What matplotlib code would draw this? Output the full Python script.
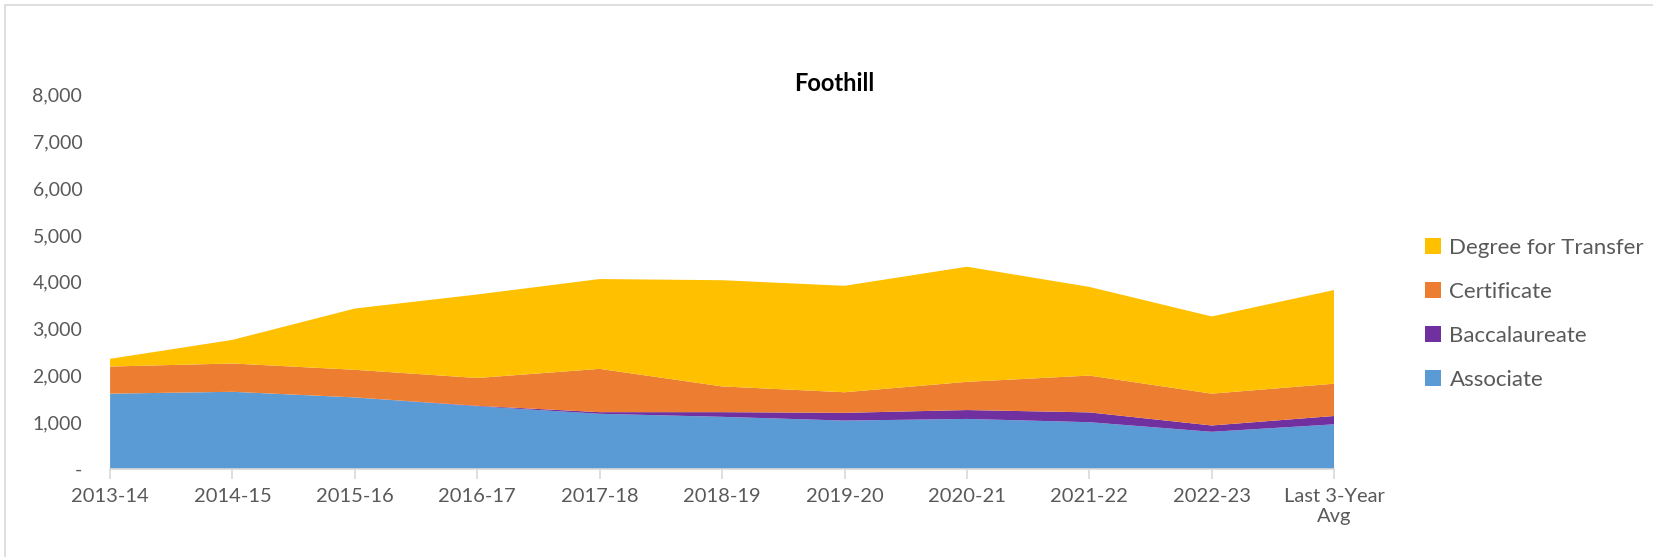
import matplotlib
matplotlib.use("Agg")
import matplotlib.pyplot as plt
from matplotlib.patches import Rectangle
from matplotlib.ticker import FuncFormatter

years = ["2013-14", "2014-15", "2015-16", "2016-17", "2017-18", "2018-19",
         "2019-20", "2020-21", "2021-22", "2022-23", "Last 3-Year\nAvg"]

associate = [1610, 1650, 1530, 1340, 1180, 1115, 1035, 1070, 1000, 795, 955]
baccalaureate = [0, 0, 0, 10, 35, 100, 165, 190, 210, 135, 178]
certificate = [580, 605, 590, 595, 925, 550, 440, 603, 787, 680, 690]
degree_transfer = [165, 505, 1310, 1785, 1920, 2270, 2275, 2460, 1895, 1650, 2002]

labels = ["Associate", "Baccalaureate", "Certificate", "Degree for Transfer"]
colors = ["#5B9BD5", "#7030A0", "#ED7D31", "#FFC000"]

plt.rcParams['font.family'] = ['Lato', 'DejaVu Sans']

fig = plt.figure(figsize=(16.53, 5.57), dpi=100)
ax = fig.add_axes([0.0666, 0.158, 0.7405, 0.672])

x = list(range(len(years)))
ax.stackplot(x, associate, baccalaureate, certificate, degree_transfer,
             colors=colors, labels=labels, linewidth=0)

ax.set_xlim(0, len(years) - 1)
ax.set_ylim(0, 8000)
ax.set_yticks(range(0, 8001, 1000))
ax.yaxis.set_major_formatter(FuncFormatter(lambda v, p: "-" if v == 0 else f"{int(v):,}"))
ax.set_xticks(x)
ax.set_xticklabels(years)

for s in ["top", "right", "left"]:
    ax.spines[s].set_visible(False)
ax.spines["bottom"].set_color("#D9D9D9")
ax.spines["bottom"].set_linewidth(1.2)

ax.tick_params(axis="y", length=0, pad=20, labelsize=14, labelcolor="#595959")
ax.tick_params(axis="x", length=7, width=1.2, color="#D9D9D9", pad=7,
               labelsize=14.5, labelcolor="#595959")

ax.set_title("Foothill", fontsize=17, fontweight="bold", pad=3, x=0.592)

# legend in reversed order like Excel
handles, labs = ax.get_legend_handles_labels()
fig.legend(handles[::-1], labs[::-1], loc="center left",
           bbox_to_anchor=(0.85, 0.437), frameon=False, fontsize=16,
           handlelength=0.7, handleheight=0.7, handletextpad=0.4,
           labelspacing=1.08, labelcolor="#595959")

fig.patches.append(Rectangle((5 / 1653, -0.1), 1.2, (552 / 557) + 0.1,
                             transform=fig.transFigure, fill=False,
                             edgecolor="#D9D9D9", linewidth=1.2))

fig.savefig("out.png", dpi=100)
